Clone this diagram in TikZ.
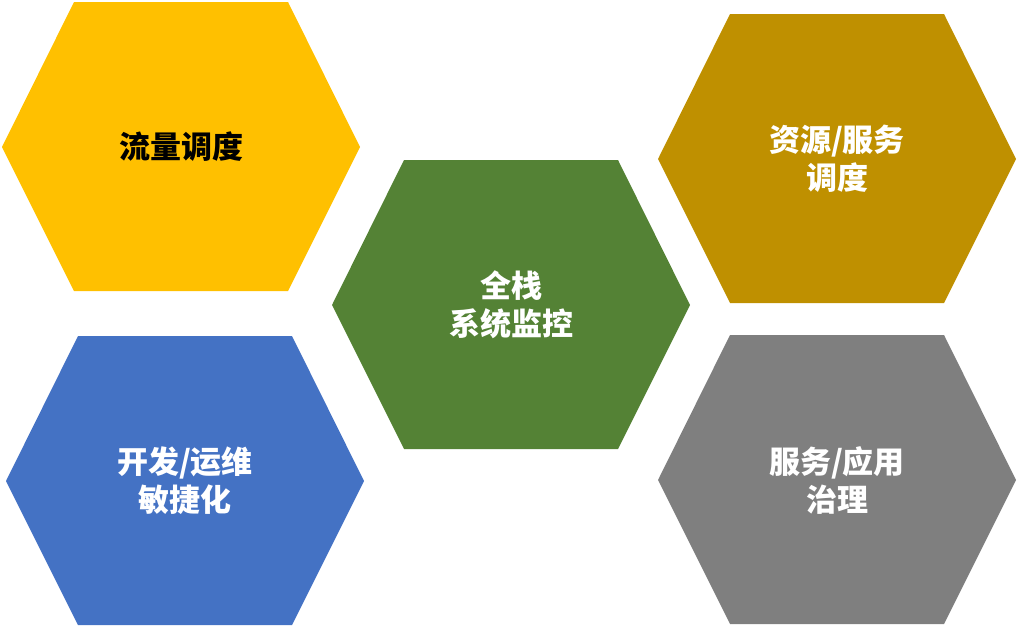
\documentclass[tikz,border=0pt]{standalone}
\usepackage{fontspec}
\newfontfamily\cjk{Noto Sans CJK SC}
\definecolor{hexyellow}{HTML}{FFC000}
\definecolor{hexgreen}{HTML}{548235}
\definecolor{hexgold}{HTML}{BF9000}
\definecolor{hexblue}{HTML}{4472C4}
\definecolor{hexgray}{HTML}{7F7F7F}
\begin{document}
\begin{tikzpicture}[x=1pt, y=-1pt,
    hexlabel/.style={font=\cjk\bfseries\fontsize{31}{38}\selectfont, align=center}]
  \useasboundingbox (0,0) rectangle (1020,629);
  % hexagons: name / centre x / centre y / fill / text colour / label
  \foreach \name/\cx/\cy/\col/\tcol/\txt in {
      traffic/181/147/hexyellow/black/{流量调度},
      monitor/511/305/hexgreen/white/{全栈\\系统监控},
      resource/837/159/hexgold/white/{资源/服务\\调度},
      devops/185/481/hexblue/white/{开发/运维\\敏捷化},
      govern/837/480/hexgray/white/{服务/应用\\治理}}{
    \fill[\col] (\cx-179,\cy) -- (\cx-107,\cy-145) -- (\cx+107,\cy-145)
      -- (\cx+179,\cy) -- (\cx+107,\cy+144) -- (\cx-107,\cy+144) -- cycle;
    \node[hexlabel, text=\tcol] (\name) at (\cx,\cy) {\txt};
  }
\end{tikzpicture}
\end{document}
